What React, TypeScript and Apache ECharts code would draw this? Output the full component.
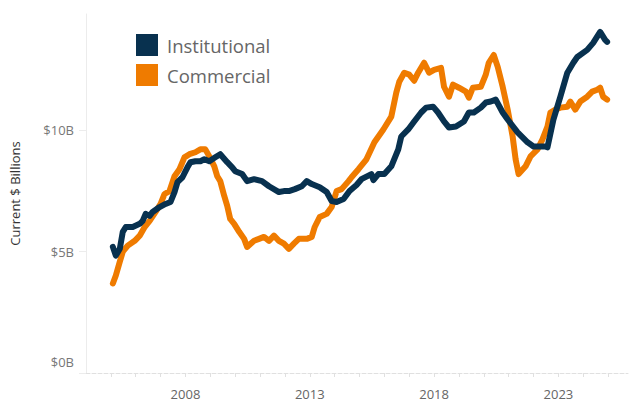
import React, { useEffect, useRef } from "react";
import * as echarts from "echarts";

const instDates = [2005.08, 2005.2, 2005.36, 2005.48, 2005.6, 2005.88, 2006.16, 2006.28, 2006.4, 2006.56, 2006.68, 2006.96, 2007.2, 2007.4, 2007.56, 2007.68, 2007.88, 2008.08, 2008.2, 2008.4, 2008.6, 2008.76, 2008.96, 2009.2, 2009.4, 2009.68, 2009.88, 2010.0, 2010.28, 2010.48, 2010.76, 2011.08, 2011.36, 2011.76, 2011.96, 2012.16, 2012.4, 2012.68, 2012.88, 2013.08, 2013.4, 2013.68, 2013.88, 2014.08, 2014.36, 2014.6, 2014.88, 2015.08, 2015.48, 2015.56, 2015.76, 2016.0, 2016.28, 2016.56, 2016.68, 2016.96, 2017.2, 2017.48, 2017.68, 2017.96, 2018.16, 2018.4, 2018.6, 2018.88, 2019.2, 2019.4, 2019.6, 2019.88, 2020.08, 2020.28, 2020.48, 2020.76, 2020.96, 2021.36, 2021.76, 2022.0, 2022.28, 2022.48, 2022.56, 2022.8, 2023.08, 2023.36, 2023.6, 2023.76, 2024.16, 2024.4, 2024.68, 2024.88, 2024.96];
const instValues = [5.2, 4.84, 5.12, 5.82, 6.02, 6.02, 6.15, 6.27, 6.56, 6.48, 6.64, 6.84, 6.97, 7.05, 7.46, 7.87, 8.07, 8.48, 8.69, 8.73, 8.73, 8.81, 8.73, 8.89, 9.02, 8.69, 8.48, 8.32, 8.2, 7.91, 7.99, 7.91, 7.7, 7.46, 7.5, 7.5, 7.58, 7.7, 7.91, 7.79, 7.66, 7.46, 7.09, 7.05, 7.17, 7.5, 7.75, 7.99, 8.2, 7.95, 8.2, 8.2, 8.52, 9.22, 9.75, 10.04, 10.37, 10.74, 10.94, 10.98, 10.74, 10.37, 10.12, 10.16, 10.37, 10.74, 10.74, 10.94, 11.15, 11.19, 11.27, 10.74, 10.45, 9.92, 9.51, 9.34, 9.34, 9.34, 9.3, 10.45, 11.39, 12.38, 12.79, 13.03, 13.32, 13.61, 14.06, 13.73, 13.65];

const commDates = [2005.08, 2005.2, 2005.36, 2005.48, 2005.68, 2005.96, 2006.16, 2006.36, 2006.56, 2006.8, 2007.0, 2007.16, 2007.36, 2007.56, 2007.76, 2007.96, 2008.16, 2008.4, 2008.6, 2008.8, 2008.96, 2009.16, 2009.28, 2009.4, 2009.56, 2009.68, 2009.8, 2009.96, 2010.16, 2010.36, 2010.48, 2010.76, 2010.96, 2011.16, 2011.36, 2011.56, 2011.76, 2011.96, 2012.16, 2012.36, 2012.56, 2012.88, 2013.08, 2013.2, 2013.4, 2013.68, 2013.88, 2014.08, 2014.28, 2014.56, 2014.68, 2014.96, 2015.28, 2015.6, 2015.96, 2016.28, 2016.48, 2016.6, 2016.8, 2017.0, 2017.2, 2017.36, 2017.6, 2017.8, 2018.0, 2018.28, 2018.4, 2018.6, 2018.76, 2019.0, 2019.28, 2019.4, 2019.56, 2019.88, 2020.08, 2020.2, 2020.4, 2020.56, 2020.76, 2020.96, 2021.16, 2021.28, 2021.4, 2021.68, 2021.88, 2022.16, 2022.36, 2022.56, 2022.68, 2022.88, 2023.08, 2023.36, 2023.48, 2023.68, 2023.88, 2024.16, 2024.36, 2024.56, 2024.68, 2024.8, 2024.96];
const commValues = [3.69, 4.02, 4.59, 5.0, 5.25, 5.45, 5.66, 6.02, 6.27, 6.64, 6.97, 7.38, 7.5, 8.11, 8.4, 8.89, 9.02, 9.1, 9.22, 9.22, 8.93, 8.52, 8.11, 7.91, 7.3, 6.89, 6.35, 6.15, 5.82, 5.53, 5.2, 5.45, 5.53, 5.61, 5.45, 5.66, 5.45, 5.33, 5.12, 5.33, 5.53, 5.53, 5.61, 6.02, 6.43, 6.56, 6.84, 7.5, 7.58, 7.91, 8.07, 8.4, 8.81, 9.51, 10.04, 10.57, 11.56, 12.01, 12.38, 12.3, 12.05, 12.38, 12.79, 12.38, 12.5, 12.58, 11.8, 11.39, 11.89, 11.76, 11.6, 11.35, 11.76, 11.8, 12.3, 12.79, 13.11, 12.62, 11.8, 10.86, 9.75, 8.81, 8.2, 8.52, 8.93, 9.22, 9.63, 10.16, 10.74, 10.86, 10.94, 10.98, 11.19, 10.86, 11.19, 11.39, 11.6, 11.68, 11.76, 11.39, 11.27];

const yearLabels = [2008, 2013, 2018, 2023];
const seriesNames = ["Institutional", "Commercial"];
const colors = ["#08314f", "#ef7b00"];

export default function App() {
  const ref = useRef<HTMLDivElement>(null);
  useEffect(() => {
    if (!ref.current) return;
    const chart = echarts.init(ref.current, null, { renderer: "svg" });
    const font = "'Open Sans', 'Noto Sans', sans-serif";
    chart.setOption({
      animation: false,
      color: colors,
      textStyle: { fontFamily: font },
      grid: { left: 83, right: 3, top: 14, bottom: 34 },
      legend: {
        orient: "vertical",
        left: 136,
        top: 34,
        padding: 0,
        icon: "rect",
        itemWidth: 22,
        itemHeight: 22,
        itemGap: 8,
        data: seriesNames,
        textStyle: { fontSize: 18.5, lineHeight: 22, color: "#666", fontFamily: font, padding: [0, 0, 0, 4] },
      },
      xAxis: {
        type: "value",
        min: 2004,
        max: 2025.8,
        interval: 1,
        splitLine: { show: false },
        axisLine: { show: true, lineStyle: { color: "#e0e0e0", type: "dashed", width: 1 } },
        axisTick: { show: true, length: 4, lineStyle: { color: "#e0e0e0" } },
        axisLabel: {
          color: "#666",
          fontSize: 13,
          margin: 14,
          showMinLabel: false,
          showMaxLabel: false,
          formatter: (v: number) => (yearLabels.includes(Math.round(v)) ? String(Math.round(v)) : ""),
        },
      },
      yAxis: {
        type: "value",
        min: 0,
        max: 14.8,
        interval: 5,
        name: "Current $ Billions",
        nameLocation: "middle",
        nameGap: 65,
        nameTextStyle: { color: "#333", fontSize: 13, fontFamily: font },
        splitLine: { show: false },
        axisLine: { show: true, lineStyle: { color: "#ececec" } },
        axisTick: { show: true, length: 7, lineStyle: { color: "#ececec" } },
        axisLabel: {
          color: "#777",
          fontSize: 13,
          margin: 12,
          showMaxLabel: false,
          formatter: (v: number) => (v === 0 ? "{z|$0B}" : "$" + v + "B"),
          rich: { z: { padding: [0, 0, 22, 0], color: "#777", fontSize: 13, fontFamily: font } },
        },
      },
      series: [
        {
          name: seriesNames[0],
          type: "line",
          showSymbol: false,
          data: instDates.map((d, i) => [d, instValues[i]]),
          lineStyle: { width: 6, color: colors[0], cap: "round", join: "round" },
          z: 3,
        },
        {
          name: seriesNames[1],
          type: "line",
          showSymbol: false,
          data: commDates.map((d, i) => [d, commValues[i]]),
          lineStyle: { width: 6, color: colors[1], cap: "round", join: "round" },
          z: 2,
        },
      ],
    });
    return () => chart.dispose();
  }, []);
  return <div ref={ref} style={{ width: 631, height: 407, position: "absolute", left: 0, top: 0 }} />;
}
